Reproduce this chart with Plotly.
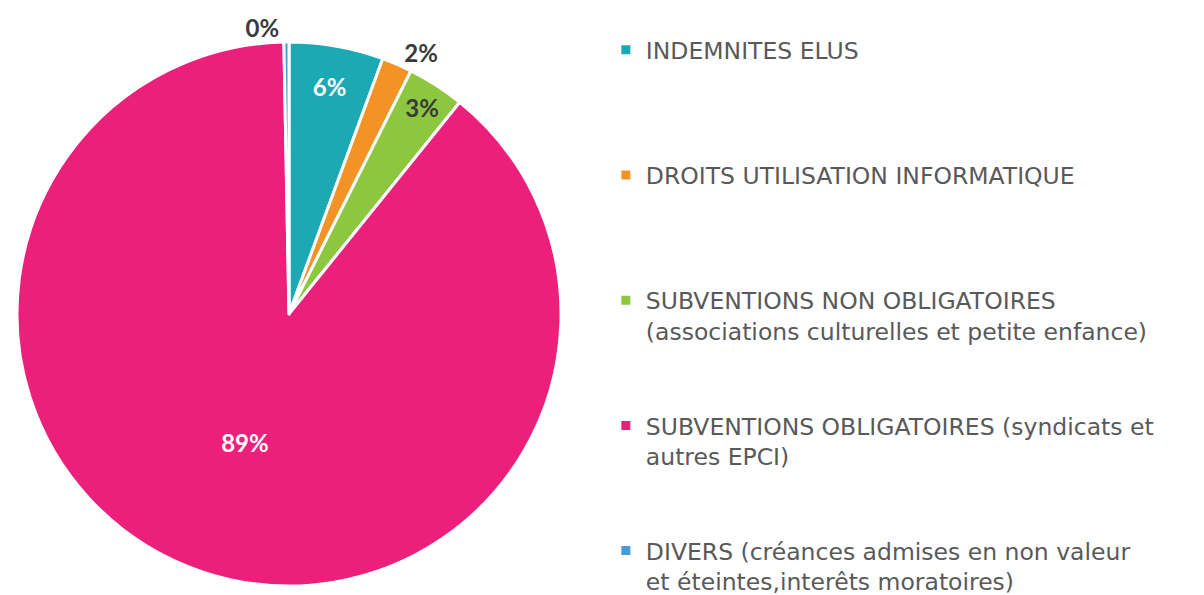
import plotly.graph_objects as go

labels = [
    "INDEMNITES ELUS",
    "DROITS UTILISATION INFORMATIQUE",
    "SUBVENTIONS NON OBLIGATOIRES<br>(associations culturelles et petite enfance)",
    "SUBVENTIONS OBLIGATOIRES (syndicats et<br>autres EPCI)",
    "DIVERS (créances admises en non valeur<br>et éteintes,interêts moratoires)",
]
values = [5.6, 1.8, 3.4, 88.9, 0.3]
colors = ["#1BA9B4", "#F39325", "#8DC63F", "#EC1F7A", "#4A9BD5"]
text_positions = ["inside", "outside", "inside", "inside", "outside"]
inside_text_colors = ["#FFFFFF", "#3A3A3A", "#3A3A3A", "#FFFFFF", "#3A3A3A"]

# pad legend entries to equal 4-line blocks (last one unpadded)
def pad(s, lines=4):
    n = s.count("<br>") + 1
    return s + "<br> " * (lines - n)

legend_labels = [pad(l) for l in labels[:-1]] + [labels[-1]]

W, H = 1204, 595
ml, mr, mt, mb = 7, 20, 30, 17
pw = W - ml - mr
ph = H - mt - mb

fig = go.Figure(
    go.Pie(
        labels=legend_labels,
        values=values,
        sort=False,
        direction="clockwise",
        rotation=0,
        marker=dict(colors=colors, line=dict(color="white", width=3)),
        texttemplate="%{percent:.0%}",
        textposition=text_positions,
        insidetextorientation="horizontal",
        insidetextfont=dict(color=inside_text_colors, size=24, family="Lato", weight="bold"),
        outsidetextfont=dict(color="#3A3A3A", size=24, family="Lato", weight="bold"),
        domain=dict(x=[0, ph / pw], y=[0, 1]),
        hoverinfo="label+percent",
    )
)

fig.update_layout(
    width=W,
    height=H,
    margin=dict(l=ml, r=mr, t=mt, b=mb),
    paper_bgcolor="white",
    plot_bgcolor="white",
    showlegend=True,
    legend=dict(
        x=0.502,
        y=1.005,
        xanchor="left",
        yanchor="top",
        valign="top",
        font=dict(family="DejaVu Sans", size=23.5, color="#595959"),
        itemwidth=30,
        traceorder="normal",
        maxheight=595,
    ),
)

fig.write_html("out.html")
